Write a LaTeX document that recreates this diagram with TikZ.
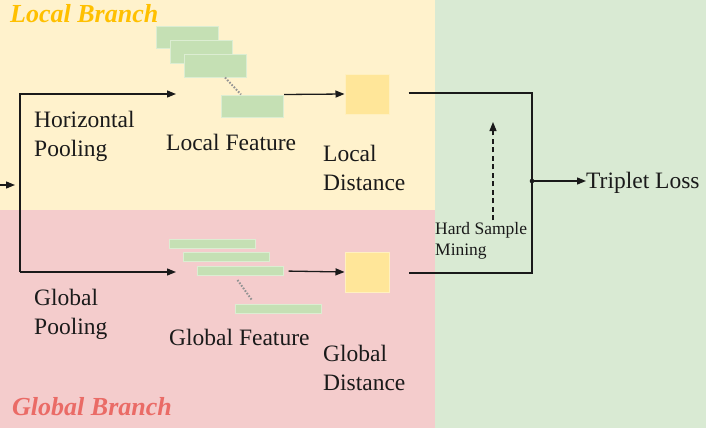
\documentclass[tikz,border=0pt]{standalone}
\usepackage{fontspec}
\setmainfont{Liberation Serif}
\usetikzlibrary{arrows.meta}
\definecolor{bgy}{HTML}{FFF2CC}
\definecolor{bgp}{HTML}{F4CCCC}
\definecolor{bgg}{HTML}{D9EAD3}
\definecolor{featg}{HTML}{C5E0B4}
\definecolor{featb}{HTML}{DCEDD2}
\definecolor{disty}{HTML}{FFE699}
\definecolor{distb}{HTML}{FFF0C0}
\definecolor{lbc}{HTML}{FFC000}
\definecolor{gbc}{HTML}{EA6B66}
\definecolor{txt}{HTML}{1A1A1A}
\tikzset{
  lab/.style={font=\fontsize{23.5}{29}\selectfont, text=txt, inner sep=0pt, align=left},
  small/.style={font=\fontsize{17.5}{21}\selectfont, text=txt, inner sep=0pt, align=left},
  branch/.style={font=\fontsize{26}{30}\selectfont\bfseries\itshape, inner sep=0pt, anchor=base west},
  feat/.style={fill=featg, draw=featb, line width=1pt, inner sep=0pt, minimum width=62pt, minimum height=22pt},
  bar/.style={fill=featg, draw=featb, line width=1pt, inner sep=0pt, minimum width=86pt, minimum height=9pt},
  dist/.style={fill=disty, draw=distb, line width=1pt, inner sep=0pt, minimum width=44pt, minimum height=40pt},
  arr/.style={-{Triangle[length=9pt,width=7pt]}, line width=1.3pt, draw=txt},
  conn/.style={line width=1.3pt, draw=txt},
  dots/.style={draw=gray!85, line width=2pt, dash pattern=on 1.6pt off 1.6pt},
  dashline/.style={line width=1.2pt, dash pattern=on 5pt off 3.5pt},
}
\begin{document}
\begin{tikzpicture}[x=1pt,y=-1pt]
\useasboundingbox (0,0) rectangle (706,428);
% backgrounds
\fill[bgy] (0,0) rectangle (435,210);
\fill[bgp] (0,210) rectangle (435,428);
\fill[bgg] (435,0) rectangle (706,428);
% branch titles
\node[branch, text=lbc] (lbr) at (10,23) {Local Branch};
\node[branch, text=gbc] (gbr) at (12,415) {Global Branch};
% local features
\node[feat] (lf1) at (187,38) {};
\node[feat] (lf2) at (201,52) {};
\node[feat] (lf3) at (215.5,66) {};
\node[feat] (lf4) at (252.5,106) {};
\draw[dots] ([xshift=41pt]lf3.south west) -- ([xshift=20pt]lf4.north west);
% global features
\node[bar] (gf1) at (212,243.5) {};
\node[bar] (gf2) at (226,257) {};
\node[bar] (gf3) at (240,271) {};
\node[bar] (gf4) at (278,308.5) {};
\draw[dots] ([xshift=41pt,yshift=-4pt]gf3.south west) -- ([xshift=17pt,yshift=4pt]gf4.north west);
% distances
\node[dist] (ld) at (367,94) {};
\node[dist] (gd) at (367,272) {};
% labels
\node[lab, anchor=west] (hp) at (34,136) {Horizontal\\Pooling};
\node[lab, anchor=base west] (lfl) at (166,150) {Local Feature};
\node[lab, anchor=west] (ldl) at (323,168) {Local\\Distance};
\node[lab, anchor=west] (gp) at (34,314) {Global\\Pooling};
\node[lab, anchor=base west] (gfl) at (169,345) {Global Feature};
\node[lab, anchor=west] (gdl) at (323,368) {Global\\Distance};
\node[lab, anchor=base west] (tl) at (586,188) {Triplet Loss};
\node[small, anchor=west] (hsm) at (435,241) {Hard Sample\\Mining};
% input and split
\coordinate (in) at (0,185);
\coordinate (inend) at (15,185);
\coordinate (jt) at (20,94);
\coordinate (jb) at (20,272);
\coordinate (lfin) at (176,94);
\coordinate (gfin) at (176,272);
\draw[arr] (in) -- (inend);
\draw[arr] (jb) -- (jt) -- (lfin);
\draw[arr] (jb) -- (gfin);
% feature to distance
\draw[arr] (lf4.north east) -- (ld.west);
\draw[arr, shorten <=5pt] (gf3.east) -- (gd.west);
% merge
\coordinate (m) at (532,181);
\draw[conn] ([xshift=19pt,yshift=1pt]ld.east) -| (m) |- ([xshift=19pt,yshift=-1pt]gd.east);
\fill[txt] (m) circle (2.3pt);
\draw[arr] (m) -- (tl.west |- m);
% hard sample mining
\coordinate (dtop) at (493,122);
\draw[arr, dashline] (hsm.north -| dtop) ++(0,-2) -- (dtop);
\end{tikzpicture}
\end{document}
